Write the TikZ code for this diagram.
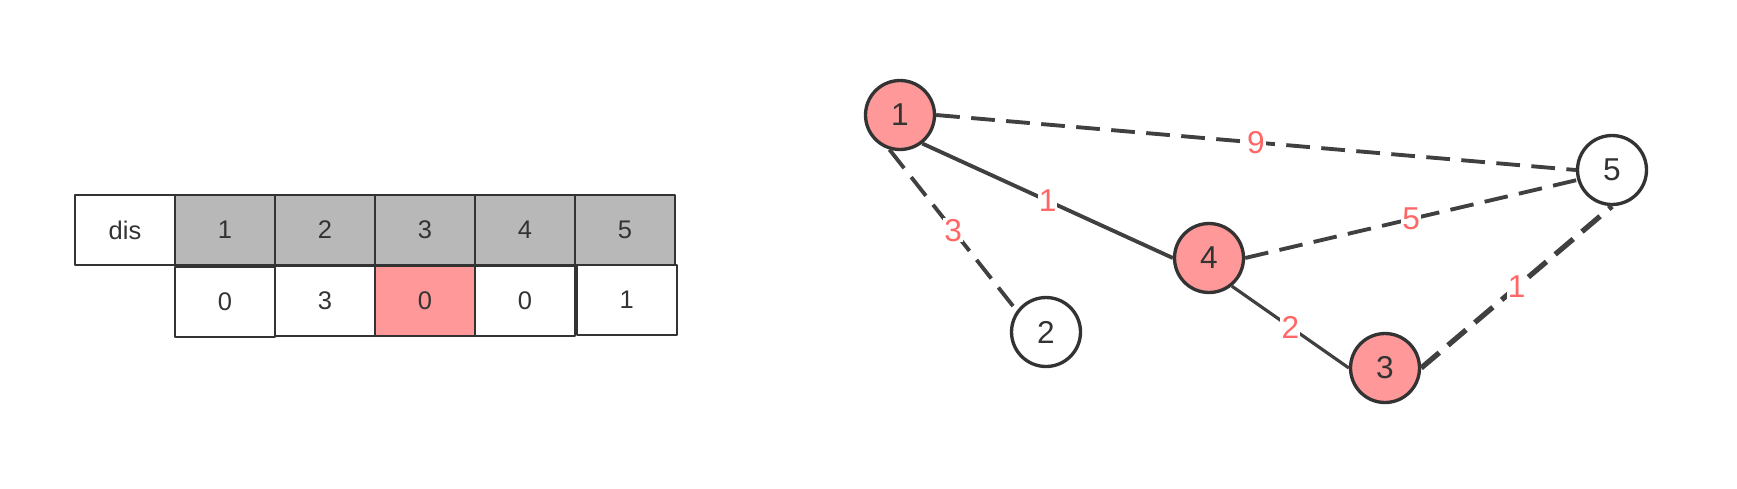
\documentclass[tikz,border=0pt]{standalone}
\usepackage{fontspec}
\setmainfont{Liberation Sans}
\usetikzlibrary{positioning}
\definecolor{vpink}{HTML}{FF9999}
\definecolor{vstroke}{HTML}{333333}
\definecolor{egray}{HTML}{404040}
\definecolor{wred}{HTML}{FF6666}
\definecolor{hgray}{HTML}{B8B8B8}
\tikzset{
  tcell/.style    = {draw=vstroke, line width=1.1pt, minimum width=2cm,
                     minimum height=1.4cm, inner sep=0pt,
                     font=\fontsize{14.5}{16}\selectfont, text=vstroke},
  thead/.style    = {tcell, fill=hgray},
  vnode/.style    = {circle, draw=vstroke, line width=1.9pt, fill=white,
                     minimum size=1.38cm, inner sep=0pt,
                     font=\fontsize{18}{20}\selectfont, text=vstroke},
  vdone/.style    = {vnode, fill=vpink},
  edgsolid/.style = {draw=egray, line width=2.2pt},
  edgdash/.style  = {edgsolid, dash pattern=on 13.5pt off 6.5pt},
  wlab/.style     = {font=\fontsize{18}{20}\selectfont, text=wred,
                     fill=white, inner sep=0.6pt},
}
\begin{document}
\begin{tikzpicture}[x=0.02cm, y=-0.02cm, line join=round]
  \useasboundingbox (0,0) rectangle (1737,488);
  % dis table
  \node[tcell] (dis) at (125,230) {dis};
  \foreach \i in {1,...,5}{%
    \node[thead] (h\i) at ({175+100*(\i-0.5)},230) {\i};}
  \foreach \i/\v/\dx/\dy in {1/0/0/1,2/3/0/0,3/0/0/0,4/0/0/0,5/1/1.7/-1}{%
    \node[tcell] (d\i) at ({175+100*(\i-0.5)+\dx},{301+\dy}) {\v};}
  \node[tcell, fill=vpink] at (d3) {0};
  % graph
  \node[vdone] (n1) at (900,115)  {1};
  \node[vnode] (n2) at (1046,332) {2};
  \node[vdone] (n3) at (1385,368) {3};
  \node[vdone] (n4) at (1209,258) {4};
  \node[vnode] (n5) at (1612,170) {5};
  \draw[edgdash]  (n1.east) -- node[wlab] {9} (n5.west);
  \draw[edgsolid] (n1.-52)  -- node[wlab] {1} (n4.west);
  \draw[edgdash]  (n1.-107) -- node[wlab] {3} (n2.144);
  \draw[edgdash]  (n4.east) -- node[wlab] {5} (n5.-164);
  \draw[edgsolid, line width=1.8pt] (n4.-51) -- node[wlab] {2} (n3.west);
  \draw[edgdash, line width=3pt]    (n3.east) -- node[wlab] {1} (n5.south);
\end{tikzpicture}
\end{document}
